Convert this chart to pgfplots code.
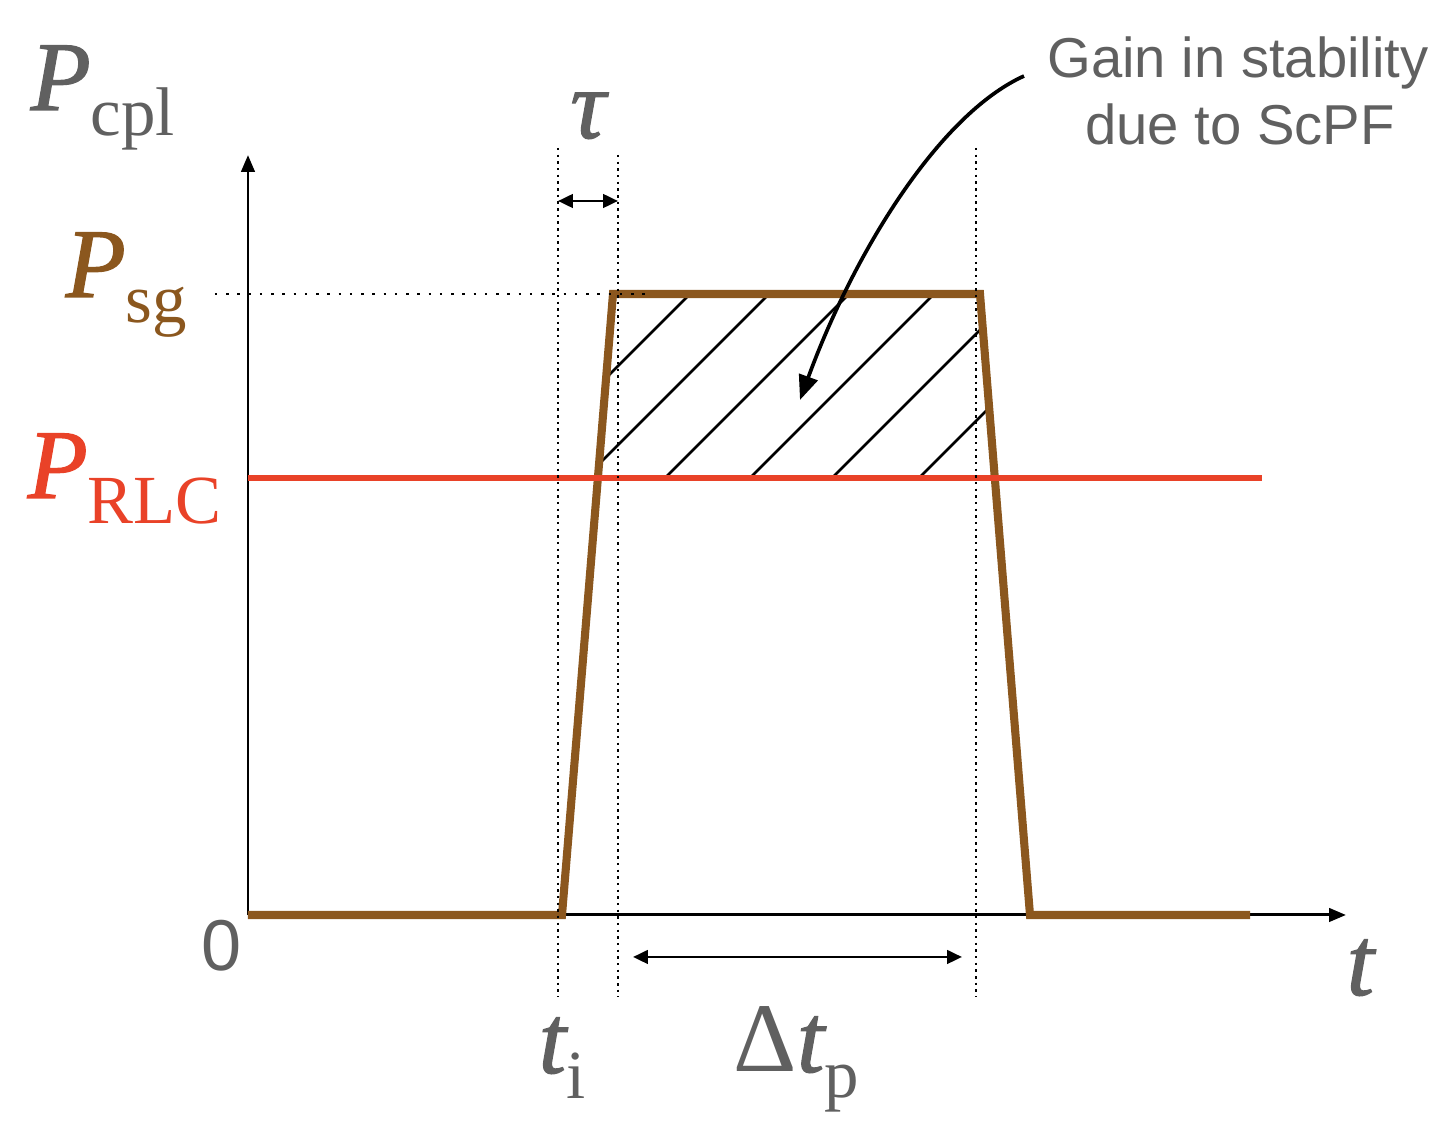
\documentclass[border=0pt]{standalone}
\usepackage{fontspec}
\setmainfont{Liberation Serif}[ItalicFeatures={FakeBold=1.2}]
\newfontfamily\helv{Liberation Sans}
\usepackage{pgfplots}
\pgfplotsset{compat=1.18}
\usetikzlibrary{arrows.meta}

\definecolor{sgbrown}{RGB}{139,87,30}
\definecolor{rlcred}{RGB}{233,66,40}
\definecolor{txtgray}{RGB}{96,96,96}

\newcommand{\bigf}{\fontsize{28}{30}\selectfont}
\newcommand{\subs}[1]{\raisebox{-7.2pt}{\fontsize{19.6}{22}\selectfont\upshape #1}}

\begin{document}
\begin{tikzpicture}
\begin{axis}[
    scale only axis,
    width=10.98cm, height=7.60cm,
    xmin=0, xmax=1098,
    ymin=0, ymax=760,
    axis lines*=left,
    axis line style={line width=0.85pt, -{Triangle[length=4.8pt,width=3.8pt]}},
    xtick=\empty, ytick=\empty,
    clip=false,
]
% page frame (whole picture)
\path (axis cs:-248,-208) rectangle (axis cs:1199,915);

% hatching of the gain region
\addplot[black, line width=0.75pt] coordinates {(358.1,537.1)(442,621)};
\addplot[black, line width=0.75pt] coordinates {(351,451)(521,621)};
\addplot[black, line width=0.75pt] coordinates {(417,437)(601,621)};
\addplot[black, line width=0.75pt] coordinates {(502,437)(686,621)};
\addplot[black, line width=0.75pt] coordinates {(584,437)(734.7,587.7)};
\addplot[black, line width=0.75pt] coordinates {(671,437)(741.2,507.2)};

% P_sg pulse
\addplot[sgbrown, line width=2.3pt, line join=miter] coordinates {
    (0,0)(314,0)(365,621)(732,621)(782,0)(1002,0)
};

% P_RLC level
\addplot[rlcred, line width=1.8pt] coordinates {(0,437)(1014,437)};

% dotted guides
\addplot[black, line width=0.8pt, dash pattern=on 0.7pt off 1.2pt] coordinates {(310,767)(310,-82)};
\addplot[black, line width=0.8pt, dash pattern=on 0.7pt off 1.2pt] coordinates {(370,760)(370,-82)};
\addplot[black, line width=0.8pt, dash pattern=on 0.7pt off 1.2pt] coordinates {(728,767)(728,-82)};
\addplot[black, line width=0.8pt, dash pattern=on 0.7pt off 2.5pt] coordinates {(-33,621)(400,621)};

% interval arrows
\draw[line width=0.8pt, {Triangle[length=4.2pt,width=3.8pt]}-{Triangle[length=4.2pt,width=3.8pt]}]
    (axis cs:310,714) -- (axis cs:370,714);
\draw[line width=0.8pt, {Triangle[length=4.2pt,width=3.8pt]}-{Triangle[length=4.2pt,width=3.8pt]}]
    (axis cs:385,-42) -- (axis cs:714,-42);

% annotation arrow
\draw[line width=1.05pt, -{Triangle[length=7pt,width=5.5pt]}]
    (axis cs:776,839) .. controls (axis cs:690,800) and (axis cs:605,660) .. (axis cs:552,515);

% labels
\node[anchor=base west, inner sep=0, text=txtgray] at (axis cs:-218,805) {{\bigf\itshape P}\subs{cpl}};
\node[anchor=base west, inner sep=0, text=sgbrown] at (axis cs:-183,618) {{\bigf\itshape P}\subs{sg}};
\node[anchor=base west, inner sep=0, text=rlcred] at (axis cs:-221,417) {{\bigf\itshape P}\subs{RLC}};
\node[anchor=base, inner sep=0, text=txtgray] at (axis cs:340,777) {\bigf\itshape τ};
\node[anchor=center, inner sep=0, text=txtgray] at (axis cs:-26,-31) {\helv\fontsize{20.5}{22}\selectfont 0};
\node[anchor=base west, inner sep=0, text=txtgray] at (axis cs:1098,-80) {\bigf\itshape t};
\node[anchor=base west, inner sep=0, text=txtgray] at (axis cs:290,-158) {{\bigf\itshape t}\subs{i}};
\node[anchor=base west, inner sep=0, text=txtgray] at (axis cs:485,-157) {{\bigf Δ\itshape t}\subs{p}};
\node[anchor=base, inner sep=0, text=txtgray] at (axis cs:990,837) {\helv\fontsize{16}{18}\selectfont Gain in stability};
\node[anchor=base, inner sep=0, text=txtgray] at (axis cs:992,770) {\helv\fontsize{16}{18}\selectfont due to ScPF};
\end{axis}
\end{tikzpicture}
\end{document}
